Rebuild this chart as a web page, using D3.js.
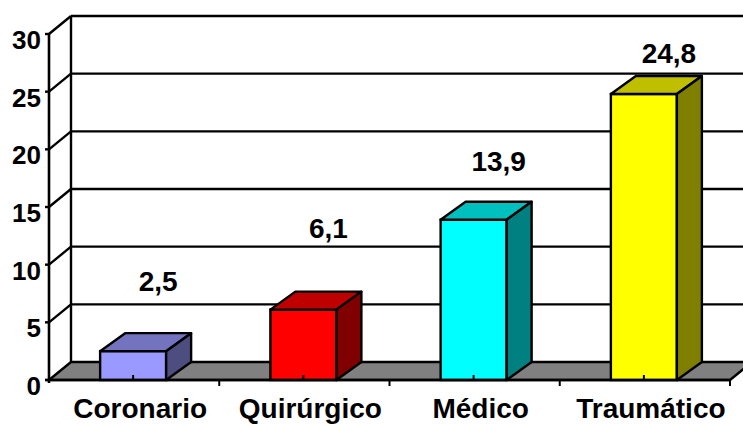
<!DOCTYPE html>
<html>
<head>
<meta charset="utf-8">
<script src="https://cdn.jsdelivr.net/npm/d3@7/dist/d3.min.js"></script>
<style>
  html, body { margin: 0; padding: 0; background: #fff; }
  svg { display: block; }
  text { font-family: "Liberation Sans", Arial, sans-serif; font-weight: bold; fill: #000; }
</style>
</head>
<body>
<svg id="chart" width="743" height="426"></svg>
<script>
// Data
const categories = ["Coronario", "Quirúrgico", "Médico", "Traumático"];
const values = [2.5, 6.1, 13.9, 24.8];
const valueLabels = ["2,5", "6,1", "13,9", "24,8"];
const yTicks = [0, 5, 10, 15, 20, 25, 30];
const frontColors = ["#9999FF", "#FF0000", "#00FFFF", "#FFFF00"];

// Layout
const W = 743, H = 426;
const axisX = 49, axisRight = 730;
const y0 = 380, yTop = 34;
const wallDx = 22, barDx = 25, depthDy = -18;
const barWidth = 66;
// vertical lift of each value label above its bar top (px)
const labelLift = [60, 72, 49, 31];

const svg = d3.select("#chart");

const x = d3.scaleBand().domain(categories).range([axisX, axisRight]);
const y = d3.scaleLinear().domain([0, 30]).range([y0, yTop]);

const shade = (c, k) => {
  const r = d3.rgb(c);
  return d3.rgb(r.r * k, r.g * k, r.b * k).formatHex();
};

// Back wall gridlines (including top edge)
svg.append("g").selectAll("line.grid")
  .data(yTicks.filter(d => d > 0))
  .join("line")
  .attr("x1", axisX + wallDx).attr("x2", W + 40)
  .attr("y1", d => y(d) + depthDy).attr("y2", d => y(d) + depthDy)
  .attr("stroke", "#000").attr("stroke-width", 2.4);

// Left wall diagonals
svg.append("g").selectAll("line.diag")
  .data(yTicks.filter(d => d > 0))
  .join("line")
  .attr("x1", axisX).attr("x2", axisX + wallDx)
  .attr("y1", d => y(d)).attr("y2", d => y(d) + depthDy)
  .attr("stroke", "#000").attr("stroke-width", 2.4);

// Back wall left edge
svg.append("line")
  .attr("x1", axisX + wallDx).attr("x2", axisX + wallDx)
  .attr("y1", y(30) + depthDy).attr("y2", y(0) + depthDy)
  .attr("stroke", "#000").attr("stroke-width", 2.4);

// Floor
const floorPts = [
  [axisX, y(0)], [axisRight, y(0)],
  [axisRight + wallDx, y(0) + depthDy], [axisX + wallDx, y(0) + depthDy]
];
svg.append("polygon")
  .attr("points", floorPts.map(p => p.join(",")).join(" "))
  .attr("fill", "#808080").attr("stroke", "#000").attr("stroke-width", 2.4)
  .attr("stroke-linejoin", "round");

// Bars (front, top, side)
const bars = svg.append("g").selectAll("g.bar")
  .data(values.map((v, i) => ({ v, i, cat: categories[i], c: frontColors[i] })))
  .join("g");

bars.each(function (d) {
  const g = d3.select(this);
  const xl = x(d.cat) + x.bandwidth() / 2 - barWidth / 2 - 1;
  const xr = xl + barWidth;
  const yt = y(d.v), yb = y(0);
  g.append("rect")
    .attr("x", xl).attr("y", yt).attr("width", barWidth).attr("height", yb - yt)
    .attr("fill", d.c).attr("stroke", "#000").attr("stroke-width", 2.4);
  g.append("polygon")
    .attr("points", [[xl, yt], [xl + barDx, yt + depthDy], [xr + barDx, yt + depthDy], [xr, yt]].map(p => p.join(",")).join(" "))
    .attr("fill", shade(d.c, 0.75)).attr("stroke", "#000").attr("stroke-width", 2.4)
    .attr("stroke-linejoin", "round");
  g.append("polygon")
    .attr("points", [[xr, yt], [xr + barDx, yt + depthDy], [xr + barDx, yb + depthDy], [xr, yb]].map(p => p.join(",")).join(" "))
    .attr("fill", shade(d.c, 0.5)).attr("stroke", "#000").attr("stroke-width", 2.4)
    .attr("stroke-linejoin", "round");
  // small tick at category centre
  g.append("line")
    .attr("x1", xl + barWidth / 2).attr("x2", xl + barWidth / 2)
    .attr("y1", yb - 5).attr("y2", yb)
    .attr("stroke", "#000").attr("stroke-width", 2);
});

// Front y axis
svg.append("line")
  .attr("x1", axisX).attr("x2", axisX)
  .attr("y1", y(30)).attr("y2", y(0) + 3)
  .attr("stroke", "#000").attr("stroke-width", 2.6);
svg.append("g").selectAll("line.ytick")
  .data(yTicks)
  .join("line")
  .attr("x1", axisX - 4).attr("x2", axisX)
  .attr("y1", d => y(d)).attr("y2", d => y(d))
  .attr("stroke", "#000").attr("stroke-width", 2.4);
svg.append("g").selectAll("text.ylab")
  .data(yTicks)
  .join("text")
  .attr("x", axisX - 8)
  .attr("y", d => y(d) + 15)
  .attr("text-anchor", "end")
  .attr("font-size", 26)
  .text(d => d);

// Front x axis and boundary ticks
svg.append("line")
  .attr("x1", axisX - 4).attr("x2", axisRight)
  .attr("y1", y(0)).attr("y2", y(0))
  .attr("stroke", "#000").attr("stroke-width", 2.6);
svg.append("g").selectAll("line.xtick")
  .data(categories)
  .join("line")
  .attr("x1", d => x(d) + x.bandwidth()).attr("x2", d => x(d) + x.bandwidth())
  .attr("y1", y(0)).attr("y2", y(0) + 6)
  .attr("stroke", "#000").attr("stroke-width", 2);

// Category labels
svg.append("g").selectAll("text.xlab")
  .data(categories)
  .join("text")
  .attr("x", d => x(d) + x.bandwidth() / 2 + 6)
  .attr("y", 418)
  .attr("text-anchor", "middle")
  .attr("font-size", 28)
  .text(d => d);

// Value labels
svg.append("g").selectAll("text.vlab")
  .data(values)
  .join("text")
  .attr("x", (d, i) => x(categories[i]) + x.bandwidth() / 2 - 1 + barDx)
  .attr("y", (d, i) => y(d) - labelLift[i])
  .attr("text-anchor", "middle")
  .attr("font-size", 28)
  .text((d, i) => valueLabels[i]);
</script>
</body>
</html>
